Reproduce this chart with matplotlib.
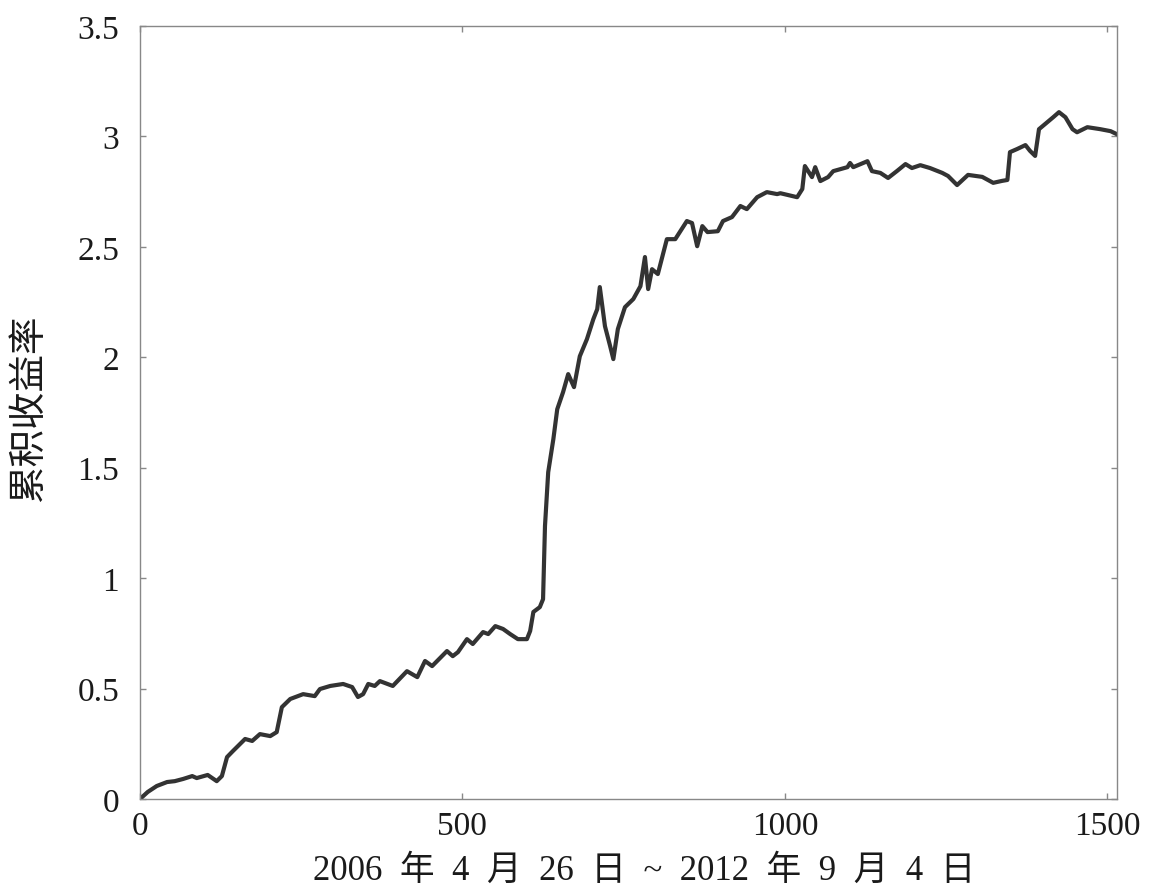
import numpy as np
import matplotlib
matplotlib.use('Agg')
import matplotlib.pyplot as plt

plt.rcParams['font.family'] = ['Liberation Serif', 'Noto Sans CJK SC', 'DejaVu Sans']
plt.rcParams['axes.unicode_minus'] = False

# trading day index and cumulative return
days = [0, 12, 26, 42, 54, 67, 81, 88, 105, 119, 127, 135, 144, 163, 174, 186,
        202, 212, 220, 233, 253, 271, 279, 295, 315, 329, 338, 346, 354, 364,
        372, 392, 414, 430, 442, 453, 476, 485, 493, 507, 516, 532, 540, 551,
        563, 574, 586, 600, 605, 610, 620, 625, 628, 633, 641, 647, 656, 664,
        673, 682, 693, 703, 709, 713, 721, 729, 734, 741, 752, 765, 776, 783,
        788, 794, 803, 817, 830, 848, 856, 864, 872, 880, 896, 904, 918, 931,
        941, 957, 972, 988, 993, 1019, 1027, 1031, 1036, 1042, 1047, 1055,
        1067, 1075, 1097, 1101, 1106, 1128, 1135, 1148, 1160, 1174, 1187,
        1197, 1210, 1225, 1244, 1253, 1267, 1284, 1306, 1323, 1337, 1345,
        1349, 1360, 1373, 1380, 1388, 1394, 1407, 1416, 1425, 1435, 1446,
        1453, 1469, 1489, 1505, 1515]
cum_return = [0.0, 0.032, 0.059, 0.077, 0.081, 0.091, 0.104, 0.095, 0.109,
              0.081, 0.104, 0.190, 0.217, 0.272, 0.263, 0.294, 0.285, 0.303,
              0.416, 0.453, 0.475, 0.466, 0.498, 0.512, 0.521, 0.507, 0.462,
              0.475, 0.521, 0.512, 0.534, 0.512, 0.579, 0.552, 0.625, 0.602,
              0.670, 0.647, 0.665, 0.724, 0.702, 0.756, 0.747, 0.783, 0.770,
              0.747, 0.724, 0.724, 0.761, 0.847, 0.869, 0.905, 1.236, 1.480,
              1.630, 1.765, 1.842, 1.924, 1.865, 2.005, 2.082, 2.173, 2.218,
              2.318, 2.141, 2.051, 1.992, 2.128, 2.227, 2.264, 2.322, 2.454,
              2.309, 2.399, 2.377, 2.535, 2.535, 2.617, 2.608, 2.503, 2.594,
              2.567, 2.571, 2.617, 2.635, 2.685, 2.671, 2.725, 2.748, 2.739,
              2.743, 2.725, 2.762, 2.866, 2.843, 2.816, 2.861, 2.798, 2.816,
              2.843, 2.861, 2.880, 2.861, 2.888, 2.843, 2.835, 2.812, 2.844,
              2.875, 2.857, 2.870, 2.857, 2.835, 2.821, 2.780, 2.826, 2.817,
              2.790, 2.799, 2.803, 2.929, 2.943, 2.961, 2.935, 2.912, 3.033,
              3.065, 3.087, 3.110, 3.087, 3.033, 3.019, 3.042, 3.033, 3.024,
              3.010]

x_ticks = [0, 500, 1000, 1500]
y_ticks = [0, 0.5, 1, 1.5, 2, 2.5, 3, 3.5]
y_tick_labels = ['0', '0.5', '1', '1.5', '2', '2.5', '3', '3.5']

fig = plt.figure(figsize=(11.53, 8.95), dpi=100)
ax = fig.add_axes([0.1214, 0.1061, 0.8474, 0.8637])

ax.plot(days, cum_return, color='#333333', lw=3.0, solid_joinstyle='round')

ax.set_xlim(0, 1515)
ax.set_ylim(0, 3.5)
ax.set_xticks(x_ticks)
ax.set_yticks(y_ticks)
ax.set_yticklabels(y_tick_labels)

for s in ax.spines.values():
    s.set_color('#888888')
    s.set_linewidth(1.0)
ax.tick_params(direction='in', length=4, width=1, color='#888888',
               top=True, right=True, labelsize=24, labelcolor='#1a1a1a')
ax.tick_params(axis='y', pad=15)
ax.tick_params(axis='x', pad=8)

ax.set_ylabel('累积收益率', fontsize=27, color='#1a1a1a')
ax.yaxis.set_label_coords(-0.095, 0.507)
ax.set_xlabel('2006  年  4  月  26  日  ~  2012  年  9  月  4  日',
              fontsize=25, color='#1a1a1a')
ax.xaxis.set_label_coords(0.516, -0.071)

fig.savefig('out.png', dpi=100)
